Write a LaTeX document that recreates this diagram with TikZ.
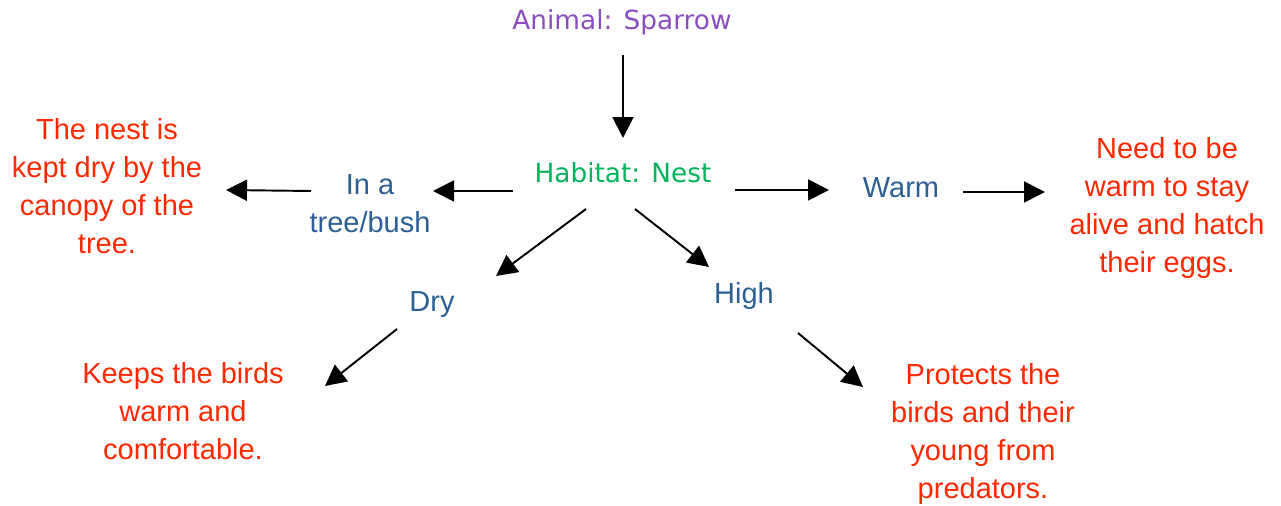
\documentclass[tikz,border=0pt]{standalone}
\usepackage{fontspec}
\setmainfont{Liberation Sans}
\newfontfamily\verdanafont{DejaVu Sans}
\usetikzlibrary{arrows.meta}

\definecolor{animalpurple}{RGB}{138,78,190}
\definecolor{habitatgreen}{RGB}{0,178,90}
\definecolor{partblue}{RGB}{45,95,150}
\definecolor{reasonred}{RGB}{255,40,0}

\tikzset{
  title_text/.style={inner sep=0pt, font=\verdanafont\fontsize{15}{18}\selectfont},
  part_text/.style={inner sep=0pt, align=center, text=partblue, font=\fontsize{16.5}{21.5}\selectfont},
  reason_text/.style={inner sep=0pt, align=center, text=reasonred, font=\fontsize{16.5}{21.7}\selectfont},
  link_arrow/.style={line width=1.1pt, -{Triangle[length=0.42cm,width=0.42cm]}}
}

\begin{document}
\begin{tikzpicture}[x=0.02cm, y=-0.02cm]
  \useasboundingbox (0,0) rectangle (1281,506);
  % draw title nodes
  \node[title_text, text=animalpurple] (animal) at (622,22) {Animal: Sparrow};
  \node[title_text, text=habitatgreen] (habitat) at (623,173) {Habitat: Nest};
  % draw blue part nodes
  \node[part_text] (tree_part) at (370,204) {In a\\tree/bush};
  \node[part_text] (warm_part) at (901,188) {Warm};
  \node[part_text] (dry_part) at (432,305) {Dry};
  \node[part_text] (high_part) at (744,296) {High};
  % draw red reason nodes
  \node[reason_text] (tree_reason) at (107,186) {The nest is\\kept dry by the\\canopy of the\\tree.};
  \node[reason_text] (warm_reason) at (1167,208) {Need to be\\warm to stay\\alive and hatch\\their eggs.};
  \node[reason_text] (dry_reason) at (183,411) {Keeps the birds\\warm and\\comfortable.};
  \node[reason_text] (high_reason) at (983,434) {Protects the\\birds and their\\young from\\predators.};
  % draw arrows between nodes
  \draw[link_arrow] ([shift={(1,33)}]animal.center) -- ([shift={(0,-35)}]habitat.center);
  \draw[link_arrow] ([shift={(-110,18)}]habitat.center) -- ([shift={(63,-13)}]tree_part.center);
  \draw[link_arrow] ([shift={(-59,-13)}]tree_part.center) -- ([shift={(119,4)}]tree_reason.center);
  \draw[link_arrow] ([shift={(112,17)}]habitat.center) -- ([shift={(-72,2)}]warm_part.center);
  \draw[link_arrow] ([shift={(62,4)}]warm_part.center) -- ([shift={(-122,-16)}]warm_reason.center);
  \draw[link_arrow] ([shift={(-37,36)}]habitat.center) -- ([shift={(64,-29)}]dry_part.center);
  \draw[link_arrow] ([shift={(12,36)}]habitat.center) -- ([shift={(-35,-29)}]high_part.center);
  \draw[link_arrow] ([shift={(-35,24)}]dry_part.center) -- ([shift={(142,-25)}]dry_reason.center);
  \draw[link_arrow] ([shift={(54,37)}]high_part.center) -- ([shift={(-120,-47)}]high_reason.center);
\end{tikzpicture}
\end{document}
